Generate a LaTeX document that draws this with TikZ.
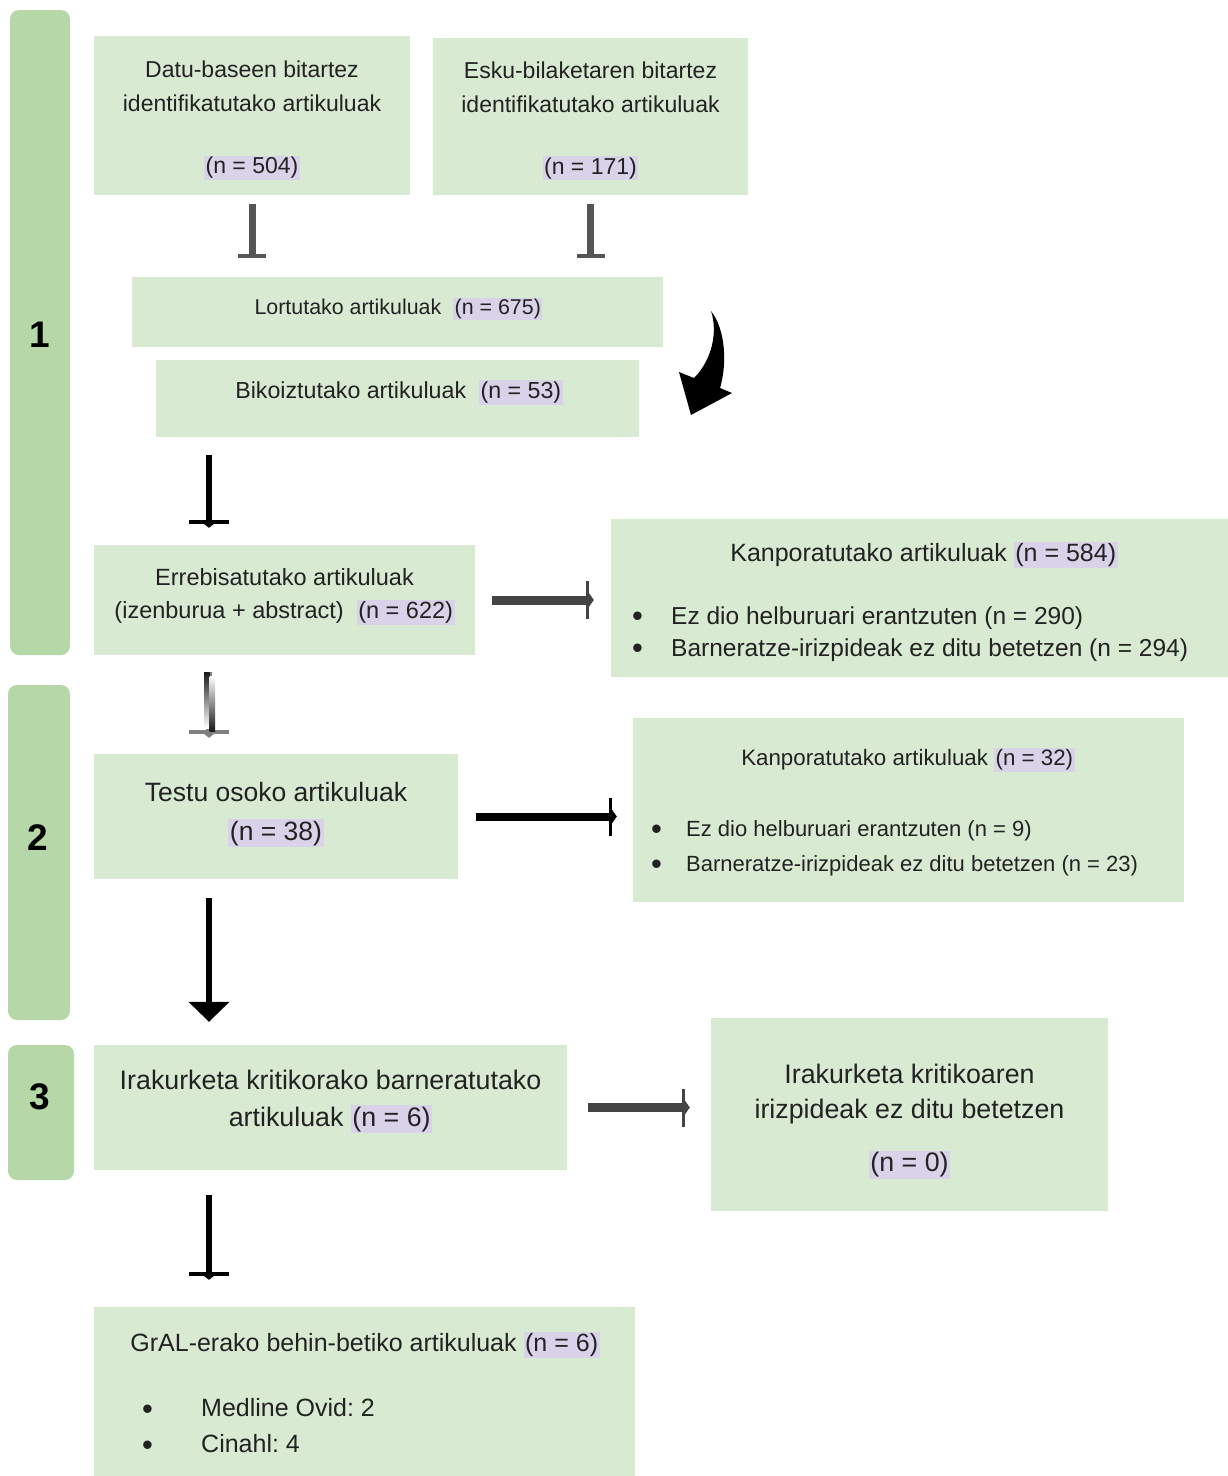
\documentclass[tikz,border=0pt]{standalone}
\usepackage{fontspec}
\setmainfont{Liberation Sans}
\usetikzlibrary{arrows.meta}

\definecolor{boxgreen}{HTML}{D9EAD3}
\definecolor{stagegreen}{HTML}{B6D7A8}
\definecolor{nlav}{HTML}{D9D2E9}
\definecolor{txtgray}{HTML}{222222}
\definecolor{arrgray}{HTML}{555555}
\definecolor{arrdark}{HTML}{444444}

\frenchspacing
\newcommand\nhl[1]{{\setlength{\fboxsep}{1.5pt}\colorbox{nlav}{#1}}}
\newcommand\blt[1]{\makebox[#1][l]{\raisebox{-2.5pt}{\fontsize{31}{31}\selectfont\textbullet}}}

\tikzset{
  box/.style={fill=boxgreen, inner sep=0pt},
  txt/.style={inner sep=0pt, align=center, text=txtgray},
  stage/.style={fill=stagegreen, rounded corners=9pt, inner sep=0pt},
  stagenum/.style={font=\fontsize{37}{40}\selectfont\bfseries, text=black},
  item/.style={anchor=west, inner sep=0pt, text=txtgray},
  garr/.style={draw=arrgray, line width=7pt, -{Bar[width=28pt,line width=3.5pt]}},
  barr/.style={draw=black, line width=6pt, -{Bar[width=40pt,line width=4pt]Triangle[length=4pt,width=10pt]}},
  harr/.style={draw=#1, line width=9pt, -{Bar[width=38pt,line width=3pt]Triangle[length=5pt,width=14pt]}},
}

\begin{document}
\begin{tikzpicture}[x=1pt, y=-1pt]
  \useasboundingbox (0,0) rectangle (1228,1476);

  % stages
  \node[stage, minimum width=60, minimum height=645] (st1) at (40,332.5) {};
  \node[stage, minimum width=62, minimum height=335] (st2) at (39,852.5) {};
  \node[stage, minimum width=66, minimum height=135] (st3) at (41,1112.5) {};
  \node[stagenum] (n1) at (40,335) {1};
  \node[stagenum] (n2) at (38,838) {2};
  \node[stagenum] (n3) at (40,1097) {3};

  % boxes
  \node[box, minimum width=316, minimum height=159] (db) at (252,115.5) {};
  \node[box, minimum width=315, minimum height=157] (esku) at (590.5,116.5) {};
  \node[box, minimum width=531, minimum height=70] (lort) at (397.5,312) {};
  \node[box, minimum width=483, minimum height=77] (bik) at (397.5,398.5) {};
  \node[box, minimum width=381, minimum height=110] (rev) at (284.5,600) {};
  \node[box, minimum width=617, minimum height=158] (kan1) at (919.5,598) {};
  \node[box, minimum width=364, minimum height=125] (full) at (276,816.5) {};
  \node[box, minimum width=551, minimum height=184] (kan2) at (908.5,810) {};
  \node[box, minimum width=473, minimum height=125] (crit) at (330.5,1107.5) {};
  \node[box, minimum width=397, minimum height=193] (excl) at (909.5,1114.5) {};
  \node[box, minimum width=541, minimum height=169] (final) at (364.5,1391.5) {};

  % box texts
  \node[txt, font=\fontsize{23}{34}\selectfont] (dbt) at (252,120.5)
    {Datu-baseen bitartez\\identifikatutako artikuluak\\[28pt]\nhl{(n = 504)}};
  \node[txt, font=\fontsize{23}{34}\selectfont] (eskut) at (590.5,121)
    {Esku-bilaketaren bitartez\\identifikatutako artikuluak\\[28pt]\nhl{(n = 171)}};
  \node[txt, font=\fontsize{21.4}{26}\selectfont] (lortt) at (398.5,309)
    {Lortutako artikuluak\ \ \nhl{(n = 675)}};
  \node[txt, font=\fontsize{23.2}{28}\selectfont] (bikt) at (399,392.5)
    {Bikoiztutako artikuluak\ \ \nhl{(n = 53)}};
  \node[txt, font=\fontsize{23.5}{33}\selectfont] (revt) at (284.5,597)
    {Errebisatutako artikuluak\\(izenburua + abstract)\ \ \nhl{(n = 622)}};
  \node[txt, font=\fontsize{26.5}{39}\selectfont] (fullt) at (276,814.5)
    {Testu osoko artikuluak\\\nhl{(n = 38)}};
  \node[txt, font=\fontsize{26.8}{37}\selectfont] (critt) at (330.5,1101.5)
    {Irakurketa kritikorako barneratutako\\artikuluak \nhl{(n = 6)}};
  \node[txt, font=\fontsize{26.8}{35}\selectfont] (exclt) at (909.5,1121.5)
    {Irakurketa kritikoaren\\irizpideak ez ditu betetzen\\[18pt]\nhl{(n = 0)}};

  % list texts
  \node[txt, font=\fontsize{25}{30}\selectfont] (kan1h) at (924,555) {Kanporatutako artikuluak \nhl{(n = 584)}};
  \node[item, font=\fontsize{24.5}{30}\selectfont] (kan1a) at (632,618)
    {\blt{39pt}Ez dio helburuari erantzuten (n = 290)};
  \node[item, font=\fontsize{24.5}{30}\selectfont] (kan1b) at (632,650)
    {\blt{39pt}Barneratze-irizpideak ez ditu betetzen (n = 294)};
  \node[txt, font=\fontsize{22.3}{28}\selectfont] (kan2h) at (908,760) {Kanporatutako artikuluak \nhl{(n = 32)}};
  \node[item, font=\fontsize{22}{28}\selectfont] (kan2a) at (651,831)
    {\blt{35pt}Ez dio helburuari erantzuten (n = 9)};
  \node[item, font=\fontsize{22}{28}\selectfont] (kan2b) at (651,866)
    {\blt{35pt}Barneratze-irizpideak ez ditu betetzen (n = 23)};
  \node[txt, font=\fontsize{25}{30}\selectfont] (finalh) at (365,1345) {GrAL-erako behin-betiko artikuluak \nhl{(n = 6)}};
  \node[item, font=\fontsize{25}{30}\selectfont] (finala) at (142,1409)
    {\blt{59pt}Medline Ovid: 2};
  \node[item, font=\fontsize{25}{30}\selectfont] (finalb) at (142,1445)
    {\blt{59pt}Cinahl: 4};

  % arrows
  \coordinate (spine) at (209,0);
  \draw[garr, shorten <=9pt, shorten >=19pt] (db.south) -- (db.south |- lort.north);
  \draw[garr, shorten <=9pt, shorten >=19pt] (esku.south) -- (esku.south |- lort.north);
  \fill[black] (711,311) .. controls (726,330) and (727,365) .. (720,388) -- (732,393) -- (691,415)
    -- (679,372) -- (694,378) .. controls (712,360) and (718,332) .. (711,311) -- cycle;
  \draw[barr, shorten <=18pt, shorten >=17pt] (spine |- bik.south) -- (spine |- rev.north);
  \draw[barr, draw=black!50, shorten <=17pt, shorten >=16pt] (spine |- rev.south) -- (spine |- full.north);
  \shade[top color=black!90, bottom color=white] (204,672) rectangle (209.5,728);
  \shade[top color=white, bottom color=black!90] (209.5,676) rectangle (215,731);
  \draw[draw=black, line width=6pt, -{Triangle[width=40pt,length=20pt]}, shorten <=19pt, shorten >=23pt]
    (spine |- full.south) -- (spine |- crit.north);
  \draw[barr, shorten <=25pt, shorten >=27pt] (spine |- crit.south) -- (spine |- final.north);
  \draw[harr=arrdark, shorten <=17pt, shorten >=17pt] (rev.east) -- (rev.east -| kan1.west);
  \draw[harr=black, line width=8pt, shorten <=18pt, shorten >=16pt] (full.east) -- (full.east -| kan2.west);
  \draw[harr=arrdark, shorten <=21pt, shorten >=21pt] (crit.east) -- (crit.east -| excl.west);
\end{tikzpicture}
\end{document}
